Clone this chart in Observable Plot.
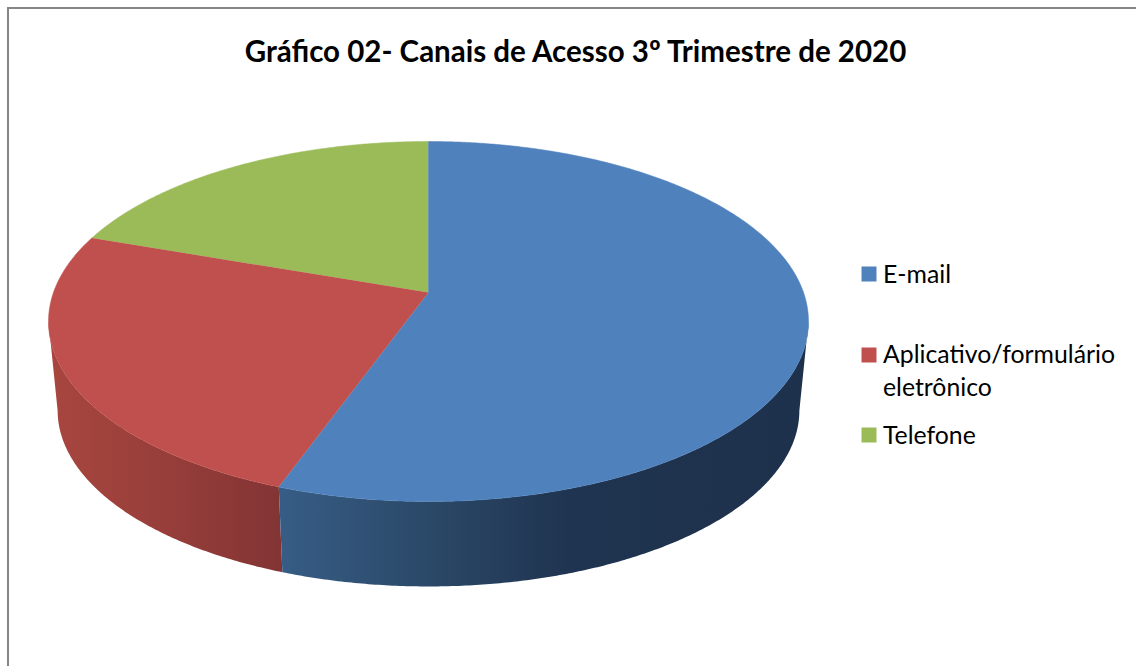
<!DOCTYPE html>
<html lang="pt">
<head>
<meta charset="utf-8">
<script src="https://cdn.jsdelivr.net/npm/d3@7"></script>
<script src="https://cdn.jsdelivr.net/npm/@observablehq/plot@0.6"></script>
<style>
  html, body { margin: 0; padding: 0; background: #fff; overflow: hidden; }
  #chart { position: relative; width: 1136px; height: 666px; }
  #chart svg { display: block; }
  #border { position: absolute; left: 7px; top: 7px; right: 0; bottom: 0;
            border-left: 2px solid #868686; border-top: 2px solid #868686; pointer-events: none; }
</style>
</head>
<body>
<div id="chart"><div id="border"></div></div>
<script>
const title = "Gráfico 02- Canais de Acesso 3º Trimestre de 2020";
const categories = ["E-mail", "Aplicativo/formulário\neletrônico", "Telefone"];
const shares = [55.5, 24.8, 19.7];
const faceColors = ["#4F81BD", "#C0504D", "#9BBB59"];

// 3-D view of the pie
const perspective = 0.161;
const bottomScaleX = 0.976, bottomScaleY = 0.978, bottomDrop = 0.494;

const pie = d3.pie().sort(null).value(d => d)(shares);
const toFace = (a) => {
  const u = Math.sin(a), v = Math.cos(a), c = perspective, k = 1 + c * v;
  return {x: u * Math.sqrt(1 - c * c) / k, y: (v + c) / k};
};
const toBase = (p) => ({x: p.x * bottomScaleX, y: p.y * bottomScaleY - bottomDrop});
const sample = (a0, a1) => {
  const n = Math.max(2, Math.ceil(Math.abs(a1 - a0) / 0.008));
  return d3.range(n + 1).map(i => a0 + (a1 - a0) * i / n);
};
const apex = {x: 0, y: perspective};
const facePoly = (s) => [apex, ...sample(s.startAngle, s.endAngle).map(toFace)];

// The side wall shows only between the ellipse's two widest points
const limitR = Math.acos(-perspective), limitL = 2 * Math.PI - limitR;
const wallPoly = (a0, a1) => {
  const top = sample(a0, a1).map(toFace);
  return [...top, ...top.slice().reverse().map(toBase)];
};
const wallEmail = wallPoly(limitR, pie[0].endAngle);
const wallApp = wallPoly(pie[1].startAngle, limitL);

function gradient(id, stops) {
  const ns = "http://www.w3.org/2000/svg";
  const g = document.createElementNS(ns, "linearGradient");
  g.setAttribute("id", id);
  g.setAttribute("x1", "0"); g.setAttribute("x2", "1");
  for (const [o, col] of stops) {
    const s = document.createElementNS(ns, "stop");
    s.setAttribute("offset", o); s.setAttribute("stop-color", col);
    g.appendChild(s);
  }
  return g;
}
const defsMark = () => {
  const ns = "http://www.w3.org/2000/svg";
  const d = document.createElementNS(ns, "defs");
  d.appendChild(gradient("wallE", [[0, "#375D86"], [0.3, "#2A4766"], [0.55, "#1F3450"], [1, "#1E314C"]]));
  d.appendChild(gradient("wallA", [[0, "#A8463F"], [0.5, "#973E3A"], [1, "#823434"]]));
  return d;
};

const font = "Lato, 'Open Sans', sans-serif";
const legendY = [273.5, 354.5, 434.5];
const legendTextY = [271.5, 368, 432.5];

const marks = [
  defsMark,
  Plot.line(wallApp, {x: "x", y: "y", fill: "url(#wallA)", stroke: "none"}),
  Plot.line(wallEmail, {x: "x", y: "y", fill: "url(#wallE)", stroke: "none"}),
  ...[2, 1, 0].map(i => Plot.line(facePoly(pie[i]), {
    x: "x", y: "y", fill: faceColors[i], stroke: faceColors[i], strokeWidth: 0.5
  })),
  Plot.text([title], {
    text: d => d, frameAnchor: "top-left", dx: 575, dy: 52, textAnchor: "middle",
    lineAnchor: "middle", fontFamily: font, fontWeight: 700, fontSize: 29.5, fill: "#000"
  }),
  ...categories.flatMap((c, i) => [
    Plot.dot([c], {
      frameAnchor: "top-left", dx: 868.5, dy: legendY[i], symbol: "square",
      r: 8.46, fill: faceColors[i], stroke: "none"
    }),
    Plot.text([c], {
      text: d => d, frameAnchor: "top-left", dx: 882.5, dy: legendTextY[i], textAnchor: "start",
      lineAnchor: "middle", lineHeight: 1.33, fontFamily: font, fontSize: 24.8, fill: "#000"
    })
  ])
];

const chart = Plot.plot({
  width: 1136, height: 666,
  marginTop: 0, marginRight: 0, marginBottom: 0, marginLeft: 0,
  style: {background: "transparent", overflow: "visible"},
  x: {axis: null, domain: [-1, 1], range: [48, 808]},
  y: {axis: null, domain: [1, -1], range: [141, 501]},
  marks
});
document.getElementById("chart").prepend(chart);
</script>
</body>
</html>
